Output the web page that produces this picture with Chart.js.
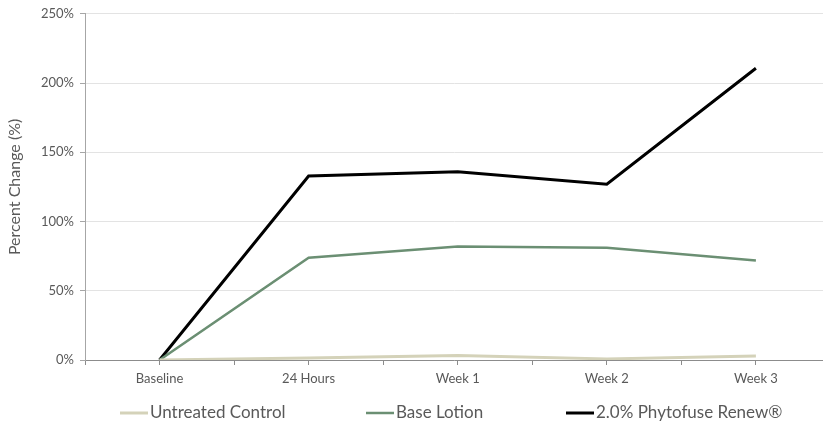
<!DOCTYPE html>
<html>
<head>
<meta charset="utf-8">
<script src="https://cdn.jsdelivr.net/npm/chart.js@4/dist/chart.umd.min.js"></script>
<style>
  html, body { margin: 0; padding: 0; background: #ffffff; }
  #wrap { width: 823px; height: 427px; position: relative; }
</style>
</head>
<body>
<div id="wrap"><canvas id="chart" width="823" height="427"></canvas></div>
<script>
// Time points and percent change per treatment
const categories = ['Baseline', '24 Hours', 'Week 1', 'Week 2', 'Week 3'];
const untreatedControl = [0, 1.5, 3.3, 0.8, 2.8];
const baseLotion = [0, 73.8, 82, 81, 71.8];
const phytofuseRenew = [0, 132.9, 136, 127, 210.7];
const seriesNames = ['Untreated Control', 'Base Lotion', '2.0% Phytofuse Renew®'];
const seriesColors = ['#d4d2b9', '#6b8f73', '#000000'];

const FONT = 'Lato, "Open Sans", sans-serif';
const TEXT = '#595959';

// each time point sits on an odd position; even positions carry only tick marks
const toPoints = vals => vals.map((v, i) => ({ x: i * 2 + 1, y: v }));

// legend drawn as a short line sample followed by the series name
const lineLegend = {
  id: 'lineLegend',
  afterDraw(chart, args, opts) {
    const ctx = chart.ctx;
    ctx.save();
    ctx.font = opts.font;
    ctx.textBaseline = 'middle';
    ctx.textAlign = 'left';
    chart.data.datasets.forEach((ds, i) => {
      const x = opts.positions[i];
      ctx.strokeStyle = ds.borderColor;
      ctx.lineWidth = ds.borderWidth;
      ctx.beginPath();
      ctx.moveTo(x, opts.y);
      ctx.lineTo(x + opts.sample, opts.y);
      ctx.stroke();
      ctx.fillStyle = opts.color;
      ctx.fillText(ds.label, x + opts.sample + opts.gap, opts.y);
    });
    ctx.restore();
  }
};

new Chart(document.getElementById('chart'), {
  type: 'line',
  data: {
    datasets: [
      { label: seriesNames[0], data: toPoints(untreatedControl), borderColor: seriesColors[0], borderWidth: 3 },
      { label: seriesNames[1], data: toPoints(baseLotion), borderColor: seriesColors[1], borderWidth: 2.5 },
      { label: seriesNames[2], data: toPoints(phytofuseRenew), borderColor: seriesColors[2], borderWidth: 3 }
    ]
  },
  options: {
    responsive: false,
    animation: false,
    devicePixelRatio: 1,
    layout: { padding: { top: 12, right: 0, bottom: 34, left: 0 } },
    elements: {
      point: { radius: 0, hoverRadius: 0 },
      line: { tension: 0, fill: false, borderCapStyle: 'butt', borderJoinStyle: 'miter' }
    },
    plugins: {
      legend: { display: false },
      tooltip: { enabled: false },
      lineLegend: {
        positions: [120, 366, 566],
        y: 413,
        sample: 28,
        gap: 2,
        font: '17px ' + FONT,
        color: TEXT
      }
    },
    scales: {
      x: {
        type: 'linear',
        min: 0,
        max: 9.9,
        afterFit: s => { s.height = 33; },
        afterBuildTicks: s => { s.ticks = s.ticks.filter(t => Number.isInteger(t.value)); },
        border: { display: true, color: '#8c8c8c', width: 1 },
        grid: { drawOnChartArea: false, drawTicks: true, tickLength: 5, tickColor: '#8c8c8c' },
        ticks: {
          stepSize: 1,
          autoSkip: false,
          maxRotation: 0,
          padding: 6,
          color: TEXT,
          font: { family: FONT, size: 13 },
          callback: v => (v % 2 === 1 ? categories[(v - 1) / 2] : '')
        }
      },
      y: {
        min: 0,
        max: 250,
        afterFit: s => { s.width = 85; },
        border: { display: true, color: '#a6a6a6', width: 1 },
        grid: { color: '#e3e3e3', lineWidth: 1, drawTicks: true, tickLength: 5, tickColor: '#a6a6a6' },
        ticks: {
          stepSize: 50,
          padding: 6,
          color: TEXT,
          font: { family: FONT, size: 13 },
          callback: v => v + '%'
        },
        title: {
          display: true,
          text: 'Percent Change (%)',
          color: TEXT,
          font: { family: FONT, size: 16 },
          padding: { top: 5, bottom: 0 }
        }
      }
    }
  },
  plugins: [lineLegend]
});
</script>
</body>
</html>
